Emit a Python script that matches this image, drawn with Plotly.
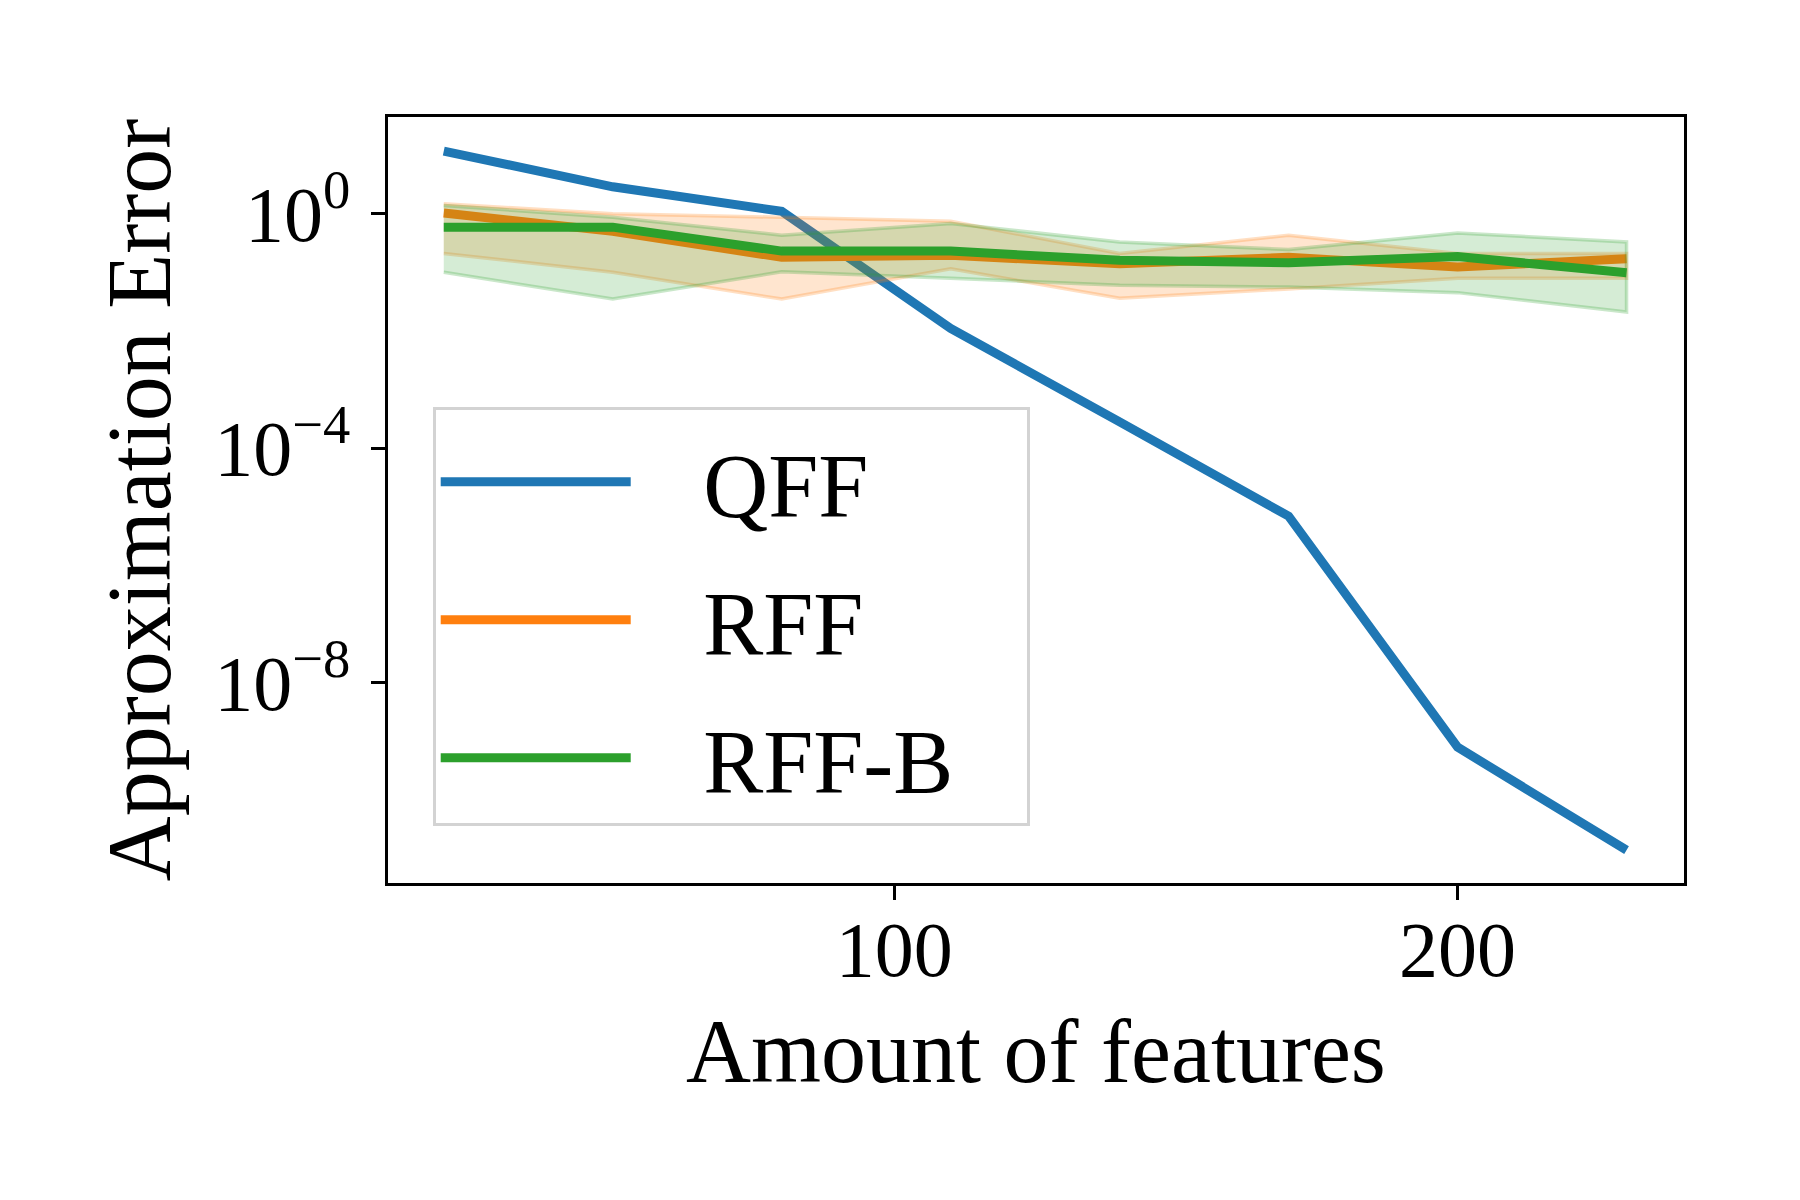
import plotly.graph_objects as go

# ---- data ----
features = [20, 50, 80, 110, 140, 170, 200, 230]

qff_mean = [11.7, 2.88, 1.10, 1.1e-2, 2.8e-4, 6.9e-6, 7.9e-10, 1.38e-11]

rff_mean = [1.03, 0.50, 0.18, 0.195, 0.14, 0.18, 0.123, 0.17]
rff_upper = [1.48, 1.00, 0.87, 0.74, 0.21, 0.43, 0.21, 0.21]
rff_lower = [0.21, 0.10, 0.035, 0.115, 0.036, 0.052, 0.079, 0.079]

rffb_mean = [0.59, 0.59, 0.23, 0.23, 0.16, 0.145, 0.186, 0.098]
rffb_upper = [1.38, 0.87, 0.43, 0.68, 0.33, 0.245, 0.47, 0.33]
rffb_lower = [0.10, 0.035, 0.102, 0.079, 0.060, 0.056, 0.045, 0.021]

series_names = ["QFF", "RFF", "RFF-B"]
y_tick_vals = [1, 1e-4, 1e-8]
y_tick_text = ["10<sup>0</sup>", "10<sup>\u22124</sup>", "10<sup>\u22128</sup>"]
x_tick_vals = [100, 200]

BLUE = "#1f77b4"
ORANGE = "#ff7f0e"
GREEN = "#2ca02c"
FONT = "Liberation Serif"
PAD = "\u00a0\u00a0\u00a0"
TPAD = "\u00a0\u00a0\u00a0"

fig = go.Figure()

fig.add_trace(go.Scatter(x=features, y=qff_mean, mode="lines", name=PAD + series_names[0] + TPAD,
                         legendgroup="g1", line=dict(color=BLUE, width=9)))

def band(upper, lower, rgb, group):
    return go.Scatter(x=features + features[::-1], y=upper + lower[::-1],
                      mode="lines", fill="toself", legendgroup=group,
                      fillcolor=f"rgba({rgb},0.2)",
                      line=dict(color=f"rgba({rgb},0.25)", width=3.5),
                      showlegend=False, hoverinfo="skip")

fig.add_trace(go.Scatter(x=features, y=rff_mean, mode="lines", name=PAD + series_names[1] + TPAD,
                         legendgroup="g2", line=dict(color=ORANGE, width=9)))
fig.add_trace(band(rff_upper, rff_lower, "255,127,14", "g2"))
fig.add_trace(go.Scatter(x=features, y=rffb_mean, mode="lines", name=PAD + series_names[2] + TPAD,
                         legendgroup="g3", line=dict(color=GREEN, width=9)))
fig.add_trace(band(rffb_upper, rffb_lower, "44,160,44", "g3"))

axis_common = dict(showline=True, linecolor="black", linewidth=3, mirror=True,
                   ticks="outside", ticklen=14, tickwidth=3, tickcolor="black",
                   showgrid=False, zeroline=False,
                   tickfont=dict(family=FONT, size=78, color="black"))

fig.update_xaxes(range=[10.1, 240.2], tickvals=x_tick_vals, ticklabelstandoff=-18,
                 title=dict(text="Amount of features", font=dict(family=FONT, size=90, color="black"),
                            standoff=28),
                 **axis_common)
fig.update_yaxes(type="log", range=[-11.42, 1.65], tickvals=y_tick_vals, ticktext=y_tick_text,
                 ticklabelstandoff=5,
                 title=dict(text="Approximation Error", font=dict(family=FONT, size=90, color="black"),
                            standoff=14),
                 **axis_common)

fig.update_layout(
    width=1800, height=1200,
    margin=dict(l=380, r=124, t=109, b=325),
    paper_bgcolor="white", plot_bgcolor="white",
    font=dict(family=FONT, color="black"),
    legend=dict(x=0.0345, y=0.621, xanchor="left", yanchor="top",
                bgcolor="rgba(255,255,255,0.8)", bordercolor="#d3d3d3", borderwidth=3,
                font=dict(family=FONT, size=90, color="black"),
                title=dict(text="\u00a0", font=dict(size=5)),
                itemwidth=190, tracegroupgap=18),
)

fig.write_html("out.html")
